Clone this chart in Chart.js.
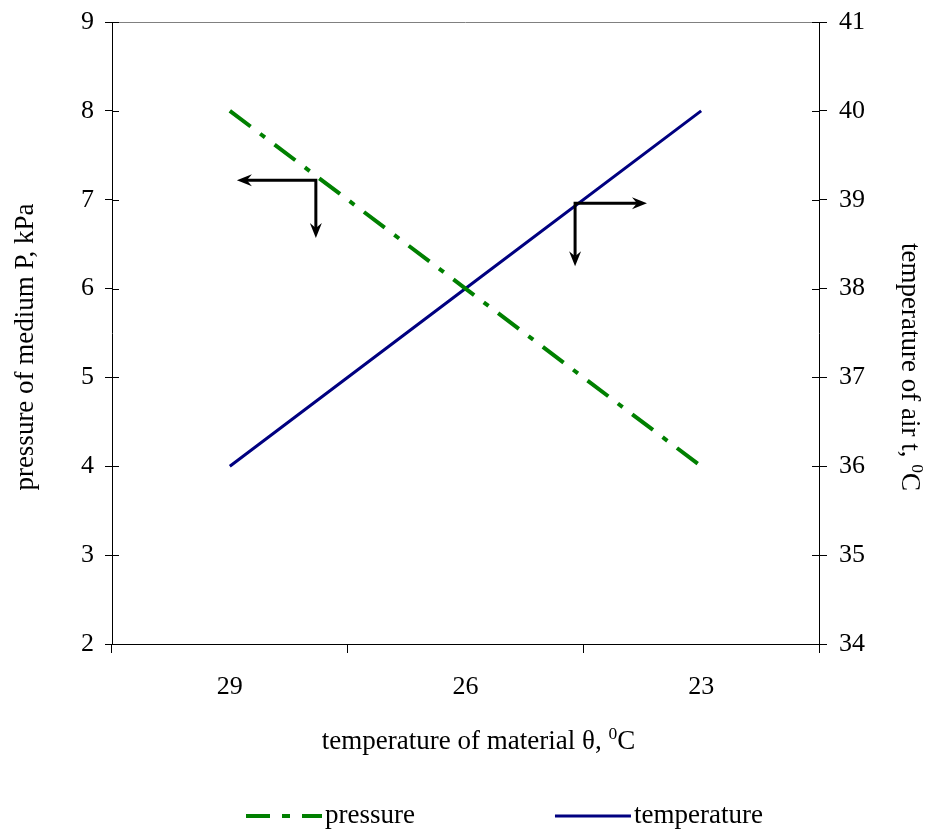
<!DOCTYPE html>
<html>
<head>
<meta charset="utf-8">
<script src="https://cdn.jsdelivr.net/npm/chart.js@4.4.1/dist/chart.umd.min.js"></script>
<style>
  html, body { margin: 0; padding: 0; background: #fff; }
  #wrap { width: 925px; height: 831px; }
</style>
</head>
<body>
<div id="wrap"><canvas id="chart"></canvas></div>
<script>
// material temperature categories (x), pressure on left axis, air temperature on right axis
const materialTemps = ["29", "26", "23"];
const pressure = [8, 6, 4];
const airTemp = [36, 38, 40];
const pressureTicks = [2, 3, 4, 5, 6, 7, 8, 9];
const airTempTicks = [34, 35, 36, 37, 38, 39, 40, 41];

const FONT = "'Liberation Serif', 'Times New Roman', serif";
const GREEN = "#008000";
const NAVY = "#000080";
const TEXT_SIZE = 27;
const TICK_SIZE = 26;

// direction arrows, in data space (x = category index, y on the given axis)
const arrows = [
  { axis: "y",  x: 0.365, y: 7.22,  toX: 0.03, toY: 6.57 },
  { axis: "y2", x: 1.465, y: 38.96, toX: 1.77, toY: 38.25 }
];

function richText(ctx, parts, cx, cy, size) {
  // measure then draw parts left to right, superscripts smaller and raised
  let w = 0;
  parts.forEach(p => {
    ctx.font = (p.sup ? size * 0.65 : size) + "px " + FONT;
    p.w = ctx.measureText(p.t).width;
    w += p.w;
  });
  let x = cx - w / 2;
  ctx.textAlign = "left";
  ctx.textBaseline = "middle";
  parts.forEach(p => {
    ctx.font = (p.sup ? size * 0.65 : size) + "px " + FONT;
    ctx.fillText(p.t, x, p.sup ? cy - size * 0.3 : cy);
    x += p.w;
  });
}

function arrowHead(ctx, fx, fy, tx, ty) {
  const ang = Math.atan2(ty - fy, tx - fx);
  const len = 15, half = 6, notch = 5;
  ctx.save();
  ctx.translate(tx, ty);
  ctx.rotate(ang);
  ctx.beginPath();
  ctx.moveTo(0, 0);
  ctx.lineTo(-len, -half);
  ctx.lineTo(-len + notch, 0);
  ctx.lineTo(-len, half);
  ctx.closePath();
  ctx.fill();
  ctx.restore();
}

// keep tick label overflow from pushing the plot area down
function noVerticalPadding(s) {
  s.paddingTop = 0;
  s.paddingBottom = 0;
}

const extras = {
  id: "extras",
  afterDraw(chart) {
    const ctx = chart.ctx;
    const a = chart.chartArea;
    const xs = chart.scales.x;
    ctx.save();

    // top border of the plot area
    ctx.strokeStyle = "#808080";
    ctx.lineWidth = 1;
    ctx.beginPath();
    ctx.moveTo(a.left, a.top + 0.5);
    ctx.lineTo(a.right, a.top + 0.5);
    ctx.stroke();

    // inner halves of the y tick marks
    ctx.strokeStyle = "#000";
    ["y", "y2"].forEach(id => {
      const s = chart.scales[id];
      const edge = id === "y" ? a.left : a.right;
      const dir = id === "y" ? 1 : -1;
      s.ticks.forEach(t => {
        const py = Math.round(s.getPixelForValue(t.value)) + 0.5;
        ctx.beginPath();
        ctx.moveTo(edge, py);
        ctx.lineTo(edge + dir * 7, py);
        ctx.stroke();
      });
    });

    // arrows
    ctx.strokeStyle = "#000";
    ctx.fillStyle = "#000";
    ctx.lineWidth = 3;
    ctx.lineJoin = "miter";
    arrows.forEach(ar => {
      const ys = chart.scales[ar.axis];
      const cx = xs.getPixelForValue(ar.x), cy = ys.getPixelForValue(ar.y);
      const hx = xs.getPixelForValue(ar.toX), vy = ys.getPixelForValue(ar.toY);
      const dirH = Math.sign(hx - cx);
      ctx.beginPath();
      ctx.moveTo(hx - dirH * 10, cy);
      ctx.lineTo(cx, cy);
      ctx.lineTo(cx, vy - 10);
      ctx.stroke();
      arrowHead(ctx, cx, cy, hx, cy);
      arrowHead(ctx, cx, cy, cx, vy);
    });

    // axis titles
    ctx.fillStyle = "#000";
    const size = TEXT_SIZE;
    richText(ctx, [{ t: "temperature of material θ, " }, { t: "0", sup: true }, { t: "C" }],
      (a.left + a.right) / 2 + 13, a.bottom + 98, size);

    const midY = (a.top + a.bottom) / 2;
    ctx.save();
    ctx.translate(26, midY + 14);
    ctx.rotate(-Math.PI / 2);
    richText(ctx, [{ t: "pressure of medium P, kPa" }], 0, 0, size);
    ctx.restore();

    ctx.save();
    ctx.translate(909, midY + 34);
    ctx.rotate(Math.PI / 2);
    richText(ctx, [{ t: "temperature of air t, " }, { t: "0", sup: true }, { t: "C" }], 0, 0, size);
    ctx.restore();

    // legend
    const ly = 816;
    let lx = 246;
    chart.data.datasets.forEach(ds => {
      ctx.save();
      ctx.strokeStyle = ds.borderColor;
      ctx.lineWidth = ds.borderWidth;
      ctx.lineCap = "butt";
      ctx.setLineDash(ds.legendDash || []);
      ctx.beginPath();
      ctx.moveTo(lx, ly);
      ctx.lineTo(lx + 76, ly);
      ctx.stroke();
      ctx.restore();
      ctx.font = size + "px " + FONT;
      ctx.textAlign = "left";
      ctx.textBaseline = "middle";
      ctx.fillText(ds.label, lx + 79, ly);
      lx += 79 + ctx.measureText(ds.label).width + 140;
    });

    ctx.restore();
  }
};

new Chart(document.getElementById("chart"), {
  type: "line",
  data: {
    labels: materialTemps,
    datasets: [
      {
        label: "pressure",
        data: pressure,
        yAxisID: "y",
        borderColor: GREEN,
        borderWidth: 4,
        borderDash: [26, 12, 6, 12],
        legendDash: [24, 12, 8, 12],
        borderCapStyle: "butt",
        pointRadius: 0,
        fill: false
      },
      {
        label: "temperature",
        data: airTemp,
        yAxisID: "y2",
        borderColor: NAVY,
        borderWidth: 3,
        pointRadius: 0,
        fill: false
      }
    ]
  },
  options: {
    responsive: true,
    maintainAspectRatio: false,
    animation: false,
    layout: { padding: { top: 22, left: 0, right: 0, bottom: 0 } },
    plugins: {
      legend: { display: false },
      tooltip: { enabled: false }
    },
    scales: {
      x: {
        offset: true,
        grid: { offset: true, drawOnChartArea: false, color: "#000", tickLength: 9 },
        border: { color: "#000" },
        ticks: { color: "#000", font: { family: FONT, size: TICK_SIZE }, padding: 19, maxRotation: 0 },
        afterFit(s) { s.height = 187; }
      },
      y: {
        position: "left",
        min: pressureTicks[0],
        max: pressureTicks[pressureTicks.length - 1],
        ticks: { stepSize: 1, color: "#000", font: { family: FONT, size: TICK_SIZE }, padding: 11 },
        grid: { drawOnChartArea: false, color: "#000", tickLength: 7 },
        border: { color: "#000" },
        afterFit(s) { s.width = 112; noVerticalPadding(s); }
      },
      y2: {
        position: "right",
        min: airTempTicks[0],
        max: airTempTicks[airTempTicks.length - 1],
        ticks: { stepSize: 1, color: "#000", font: { family: FONT, size: TICK_SIZE }, padding: 12 },
        grid: { drawOnChartArea: false, color: "#000", tickLength: 8 },
        border: { color: "#000" },
        afterFit(s) { s.width = 106; noVerticalPadding(s); }
      }
    }
  },
  plugins: [extras]
});
</script>
</body>
</html>
